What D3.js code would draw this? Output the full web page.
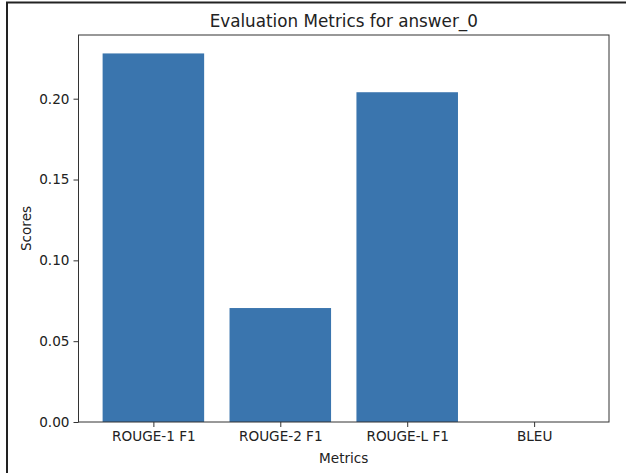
<!DOCTYPE html>
<html>
<head>
<meta charset="utf-8">
<script src="https://cdn.jsdelivr.net/npm/d3@7"></script>
<style>
html,body{margin:0;padding:0;background:#fff;}
svg{display:block;font-family:"DejaVu Sans",sans-serif;}
</style>
</head>
<body>
<svg id="chart" width="626" height="473"></svg>
<script>
const categories = ["ROUGE-1 F1", "ROUGE-2 F1", "ROUGE-L F1", "BLEU"];
const scores = [0.228, 0.0705, 0.204, 0.0];
const yTicks = [0.00, 0.05, 0.10, 0.15, 0.20];
const titleText = "Evaluation Metrics for answer_0";
const xLabel = "Metrics";
const yLabel = "Scores";

const svg = d3.select("#chart");
const W = 626, H = 473;
const m = {left: 78.5, right: 609, top: 35, bottom: 422};

// frame of screenshot
svg.append("line").attr("x1", 7).attr("x2", 7).attr("y1", 2).attr("y2", H).attr("stroke", "#222").attr("stroke-width", 2);
svg.append("line").attr("x1", 6).attr("x2", W).attr("y1", 2.5).attr("y2", 2.5).attr("stroke", "#222").attr("stroke-width", 2);

const n = categories.length;
const x = d3.scaleLinear().domain([-0.4 - 0.05 * (n - 0.2), (n - 1) + 0.4 + 0.05 * (n - 0.2)]).range([m.left, m.right]);
const ymax = d3.max(scores) * 1.05;
const y = d3.scaleLinear().domain([0, ymax]).range([m.bottom, m.top]);

const color = "#3a75ae";
svg.append("g").selectAll("rect").data(scores).join("rect")
  .attr("x", (d, i) => x(i - 0.4))
  .attr("width", (d, i) => x(i + 0.4) - x(i - 0.4))
  .attr("y", d => y(d))
  .attr("height", d => y(0) - y(d))
  .attr("fill", color);

// axes
const yAxis = d3.axisLeft(y).tickValues(yTicks).tickFormat(d3.format(".2f")).tickSize(5).tickPadding(4);
const gy = svg.append("g").attr("transform", `translate(${m.left},0)`).call(yAxis);
const xAxis = d3.axisBottom(x).tickValues(d3.range(n)).tickFormat(i => categories[i]).tickSize(5).tickPadding(4);
const gx = svg.append("g").attr("transform", `translate(0,${m.bottom})`).call(xAxis);
[gx, gy].forEach(g => {
  g.select(".domain").remove();
  g.selectAll(".tick line").attr("stroke", "#333").attr("stroke-width", 1);
  g.selectAll(".tick text").attr("fill", "#222").attr("font-size", 13.6).attr("font-family", "DejaVu Sans, sans-serif");
});

// spines
svg.append("rect").attr("x", m.left).attr("y", m.top).attr("width", m.right - m.left).attr("height", m.bottom - m.top)
  .attr("fill", "none").attr("stroke", "#333").attr("stroke-width", 1);

svg.append("text").attr("x", (m.left + m.right) / 2).attr("y", 27).attr("text-anchor", "middle")
  .attr("font-size", 16.8).attr("fill", "#222").text(titleText);
svg.append("text").attr("x", (m.left + m.right) / 2).attr("y", 463).attr("text-anchor", "middle")
  .attr("font-size", 13.6).attr("fill", "#222").text(xLabel);
svg.append("text").attr("transform", `translate(31,${(m.top + m.bottom) / 2}) rotate(-90)`).attr("text-anchor", "middle")
  .attr("font-size", 13.6).attr("fill", "#222").text(yLabel);
</script>
</body>
</html>
